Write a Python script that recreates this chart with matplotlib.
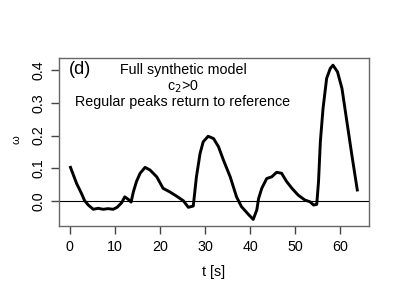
import matplotlib
matplotlib.use("Agg")
import matplotlib.pyplot as plt

t = [0.15, 1.5, 2.6, 3.3, 4.1, 5.2, 6.3, 7.4, 8.5, 9.6, 10.5, 11.5, 12.2, 13.0, 13.6,
     14.1, 14.8, 15.6, 16.7, 17.8, 19.3, 20.7, 22.2, 23.7, 25.2, 26.3, 27.4, 28.1,
     28.9, 29.6, 30.7, 31.9, 33.0, 34.1, 35.6, 37.0, 38.1, 39.6, 40.7, 41.5, 41.9,
     42.6, 43.7, 44.8, 45.9, 47.0, 48.1, 49.3, 50.7, 52.2, 53.3, 54.1, 54.8, 55.2,
     55.6, 56.2, 57.0, 57.8, 58.4, 59.4, 60.4, 61.5, 62.6, 63.8]
omega = [0.103, 0.054, 0.023, 0.001, -0.012, -0.025, -0.022, -0.025, -0.023, -0.025,
         -0.019, -0.005, 0.013, 0.005, -0.003, 0.028, 0.060, 0.085, 0.103, 0.095,
         0.074, 0.039, 0.028, 0.015, 0.001, -0.019, -0.015, 0.074, 0.145, 0.181,
         0.198, 0.191, 0.166, 0.125, 0.074, 0.013, -0.017, -0.040, -0.056, -0.027,
         0.008, 0.039, 0.069, 0.074, 0.088, 0.085, 0.060, 0.039, 0.018, 0.003,
         -0.002, -0.012, -0.010, 0.060, 0.181, 0.283, 0.375, 0.405, 0.415, 0.395,
         0.344, 0.242, 0.140, 0.034]
xticks = [0, 10, 20, 30, 40, 50, 60]
yticks = [0.0, 0.1, 0.2, 0.3, 0.4]

plt.rcParams['font.family'] = ['Liberation Sans', 'DejaVu Sans']
fig = plt.figure(figsize=(4, 3), dpi=100)
ax = fig.add_axes([0.1475, 0.2467, 0.775, 0.56])
ax.plot(t, omega, color='black', lw=2.1, solid_joinstyle='round')
ax.axhline(0, color='black', lw=0.8)
ax.set_xlim(-2.4, 66.4)
ax.set_ylim(-0.076, 0.437)
ax.set_xticks(xticks)
ax.set_xticklabels([str(v) for v in xticks])
ax.set_yticks(yticks)
ax.set_yticklabels([f"{v:.1f}" for v in yticks], rotation=90, va='center')
for s in ax.spines.values():
    s.set_color('#666666')
    s.set_linewidth(1)
ax.tick_params(length=6, width=1, color='#444444', labelsize=10.3, pad=4)
ax.set_xlabel('t [s]', fontsize=10.3, labelpad=8)
fig.text(0.0425, 0.533, 'ω', rotation=90, fontsize=8, ha='center', va='center')
ax.text(0.068, 0.929, '(d)', transform=ax.transAxes, fontsize=13, ha='center', va='center')
ax.text(0.40, 0.929, 'Full synthetic model', transform=ax.transAxes, fontsize=10.3, ha='center', va='center')
ax.text(0.40, 0.827, 'c$_2$>0', transform=ax.transAxes, fontsize=10.3, ha='center', va='center')
ax.text(0.40, 0.738, 'Regular peaks return to reference', transform=ax.transAxes, fontsize=10.3, ha='center', va='center')
fig.savefig('out.png', dpi=100)
